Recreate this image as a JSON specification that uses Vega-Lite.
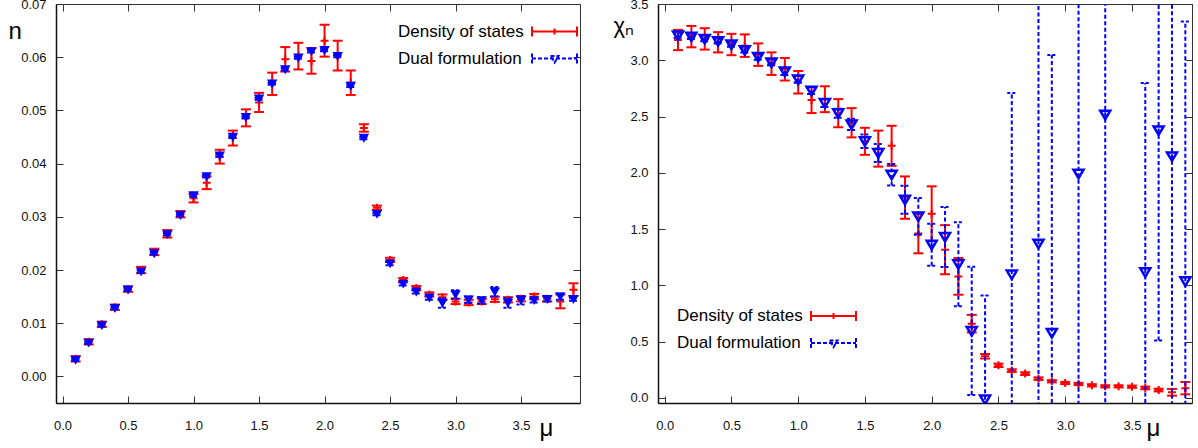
{
  "$schema": "https://vega.github.io/schema/vega-lite/v6.json",
  "background": "white",
  "padding": {"left": 7, "top": -3, "right": 5, "bottom": 5},
  "bounds": "flush",
  "spacing": 78,
  "config": {
    "font": "Liberation Sans",
    "view": {"stroke": "#333", "strokeWidth": 1},
    "axis": {"grid": false, "labelFont": "Liberation Sans", "labelFontSize": 13, "labelColor": "#111", "tickColor": "#333", "tickWidth": 1, "domainColor": "#111", "domainWidth": 1.5, "titleFont": "Liberation Sans", "titleFontWeight": "normal", "titleColor": "#000"}
  },
  "datasets": {
    "L": [
      {"mu":0.1,"d":0.0033,"dlo":0.0028,"dhi":0.0038,"b":0.0031,"blo":0.0029,"bhi":0.0033},
      {"mu":0.2,"d":0.0065,"dlo":0.0060,"dhi":0.0070,"b":0.0063,"blo":0.0061,"bhi":0.0065},
      {"mu":0.3,"d":0.0098,"dlo":0.0093,"dhi":0.0103,"b":0.0096,"blo":0.0094,"bhi":0.0098},
      {"mu":0.4,"d":0.0130,"dlo":0.0125,"dhi":0.0135,"b":0.0128,"blo":0.0126,"bhi":0.0130},
      {"mu":0.5,"d":0.0164,"dlo":0.0159,"dhi":0.0169,"b":0.0163,"blo":0.0161,"bhi":0.0165},
      {"mu":0.6,"d":0.0200,"dlo":0.0194,"dhi":0.0206,"b":0.0197,"blo":0.0195,"bhi":0.0199},
      {"mu":0.7,"d":0.0234,"dlo":0.0228,"dhi":0.0240,"b":0.0231,"blo":0.0229,"bhi":0.0233},
      {"mu":0.8,"d":0.0268,"dlo":0.0261,"dhi":0.0275,"b":0.0267,"blo":0.0265,"bhi":0.0269},
      {"mu":0.9,"d":0.0305,"dlo":0.0299,"dhi":0.0311,"b":0.0303,"blo":0.0301,"bhi":0.0305},
      {"mu":1.0,"d":0.0335,"dlo":0.0327,"dhi":0.0343,"b":0.0340,"blo":0.0338,"bhi":0.0342},
      {"mu":1.1,"d":0.0364,"dlo":0.0352,"dhi":0.0376,"b":0.0376,"blo":0.0374,"bhi":0.0378},
      {"mu":1.2,"d":0.0413,"dlo":0.0400,"dhi":0.0426,"b":0.0415,"blo":0.0413,"bhi":0.0417},
      {"mu":1.3,"d":0.0448,"dlo":0.0434,"dhi":0.0462,"b":0.0450,"blo":0.0448,"bhi":0.0452},
      {"mu":1.4,"d":0.0486,"dlo":0.0470,"dhi":0.0502,"b":0.0487,"blo":0.0485,"bhi":0.0489},
      {"mu":1.5,"d":0.0515,"dlo":0.0497,"dhi":0.0533,"b":0.0522,"blo":0.0520,"bhi":0.0524},
      {"mu":1.6,"d":0.0550,"dlo":0.0529,"dhi":0.0571,"b":0.0550,"blo":0.0548,"bhi":0.0552},
      {"mu":1.7,"d":0.0596,"dlo":0.0573,"dhi":0.0619,"b":0.0577,"blo":0.0575,"bhi":0.0579},
      {"mu":1.8,"d":0.0602,"dlo":0.0577,"dhi":0.0627,"b":0.0599,"blo":0.0597,"bhi":0.0601},
      {"mu":1.9,"d":0.0593,"dlo":0.0569,"dhi":0.0617,"b":0.0611,"blo":0.0609,"bhi":0.0613},
      {"mu":2.0,"d":0.0631,"dlo":0.0601,"dhi":0.0661,"b":0.0613,"blo":0.0611,"bhi":0.0615},
      {"mu":2.1,"d":0.0603,"dlo":0.0575,"dhi":0.0631,"b":0.0602,"blo":0.0600,"bhi":0.0604},
      {"mu":2.2,"d":0.0552,"dlo":0.0529,"dhi":0.0575,"b":0.0546,"blo":0.0544,"bhi":0.0548},
      {"mu":2.3,"d":0.0467,"dlo":0.0460,"dhi":0.0474,"b":0.0448,"blo":0.0446,"bhi":0.0450},
      {"mu":2.4,"d":0.0317,"dlo":0.0313,"dhi":0.0321,"b":0.0305,"blo":0.0303,"bhi":0.0307},
      {"mu":2.5,"d":0.0219,"dlo":0.0215,"dhi":0.0223,"b":0.0212,"blo":0.0209,"bhi":0.0215},
      {"mu":2.6,"d":0.0181,"dlo":0.0177,"dhi":0.0185,"b":0.0174,"blo":0.0171,"bhi":0.0177},
      {"mu":2.7,"d":0.0166,"dlo":0.0162,"dhi":0.0170,"b":0.0159,"blo":0.0156,"bhi":0.0162},
      {"mu":2.8,"d":0.0154,"dlo":0.0150,"dhi":0.0158,"b":0.0148,"blo":0.0144,"bhi":0.0152},
      {"mu":2.9,"d":0.0149,"dlo":0.0144,"dhi":0.0154,"b":0.0138,"blo":0.0129,"bhi":0.0147},
      {"mu":3.0,"d":0.0141,"dlo":0.0136,"dhi":0.0146,"b":0.0154,"blo":0.0146,"bhi":0.0162},
      {"mu":3.1,"d":0.0139,"dlo":0.0134,"dhi":0.0144,"b":0.0144,"blo":0.0138,"bhi":0.0150},
      {"mu":3.2,"d":0.0141,"dlo":0.0136,"dhi":0.0146,"b":0.0143,"blo":0.0137,"bhi":0.0149},
      {"mu":3.3,"d":0.0145,"dlo":0.0140,"dhi":0.0150,"b":0.0159,"blo":0.0150,"bhi":0.0168},
      {"mu":3.4,"d":0.0144,"dlo":0.0139,"dhi":0.0149,"b":0.0138,"blo":0.0129,"bhi":0.0147},
      {"mu":3.5,"d":0.0146,"dlo":0.0141,"dhi":0.0151,"b":0.0143,"blo":0.0135,"bhi":0.0151},
      {"mu":3.6,"d":0.0150,"dlo":0.0145,"dhi":0.0155,"b":0.0143,"blo":0.0139,"bhi":0.0147},
      {"mu":3.7,"d":0.0146,"dlo":0.0141,"dhi":0.0151,"b":0.0145,"blo":0.0141,"bhi":0.0149},
      {"mu":3.8,"d":0.0141,"dlo":0.0128,"dhi":0.0154,"b":0.0150,"blo":0.0144,"bhi":0.0156},
      {"mu":3.9,"d":0.0163,"dlo":0.0151,"dhi":0.0175,"b":0.0145,"blo":0.0142,"bhi":0.0148}
    ],
    "R": [
      {"mu":0.1,"d":3.18,"dlo":3.09,"dhi":3.27,"b":3.22,"blo":3.20,"bhi":3.24},
      {"mu":0.2,"d":3.21,"dlo":3.115,"dhi":3.305,"b":3.21,"blo":3.19,"bhi":3.23},
      {"mu":0.3,"d":3.19,"dlo":3.095,"dhi":3.285,"b":3.19,"blo":3.17,"bhi":3.21},
      {"mu":0.4,"d":3.16,"dlo":3.07,"dhi":3.25,"b":3.17,"blo":3.15,"bhi":3.19},
      {"mu":0.5,"d":3.14,"dlo":3.045,"dhi":3.235,"b":3.14,"blo":3.12,"bhi":3.16},
      {"mu":0.6,"d":3.13,"dlo":3.03,"dhi":3.23,"b":3.09,"blo":3.07,"bhi":3.11},
      {"mu":0.7,"d":3.05,"dlo":2.95,"dhi":3.15,"b":3.03,"blo":3.005,"bhi":3.055},
      {"mu":0.8,"d":2.97,"dlo":2.87,"dhi":3.07,"b":2.98,"blo":2.955,"bhi":3.005},
      {"mu":0.9,"d":2.92,"dlo":2.82,"dhi":3.02,"b":2.90,"blo":2.87,"bhi":2.93},
      {"mu":1.0,"d":2.805,"dlo":2.705,"dhi":2.905,"b":2.83,"blo":2.80,"bhi":2.86},
      {"mu":1.1,"d":2.646,"dlo":2.531,"dhi":2.761,"b":2.73,"blo":2.70,"bhi":2.76},
      {"mu":1.2,"d":2.654,"dlo":2.539,"dhi":2.769,"b":2.62,"blo":2.585,"bhi":2.655},
      {"mu":1.3,"d":2.53,"dlo":2.405,"dhi":2.655,"b":2.53,"blo":2.49,"bhi":2.57},
      {"mu":1.4,"d":2.445,"dlo":2.315,"dhi":2.575,"b":2.43,"blo":2.38,"bhi":2.48},
      {"mu":1.5,"d":2.28,"dlo":2.16,"dhi":2.40,"b":2.28,"blo":2.22,"bhi":2.34},
      {"mu":1.6,"d":2.215,"dlo":2.055,"dhi":2.375,"b":2.176,"blo":2.096,"bhi":2.256},
      {"mu":1.7,"d":2.24,"dlo":2.062,"dhi":2.418,"b":1.983,"blo":1.888,"bhi":2.078},
      {"mu":1.8,"d":1.78,"dlo":1.592,"dhi":1.968,"b":1.761,"blo":1.636,"bhi":1.886},
      {"mu":1.9,"d":1.46,"dlo":1.285,"dhi":1.635,"b":1.613,"blo":1.45,"bhi":1.776},
      {"mu":2.0,"d":1.637,"dlo":1.394,"dhi":1.88,"b":1.361,"blo":1.174,"bhi":1.548},
      {"mu":2.1,"d":1.317,"dlo":1.099,"dhi":1.535,"b":1.43,"blo":1.164,"bhi":1.696},
      {"mu":2.2,"d":1.08,"dlo":0.917,"dhi":1.243,"b":1.187,"blo":0.814,"bhi":1.56},
      {"mu":2.3,"d":0.66,"dlo":0.582,"dhi":0.738,"b":0.595,"blo":0.025,"bhi":1.165},
      {"mu":2.4,"d":0.37,"dlo":0.35,"dhi":0.39,"b":-0.015,"blo":-0.941,"bhi":0.911},
      {"mu":2.5,"d":0.29,"dlo":0.275,"dhi":0.305,"b":null,"blo":null,"bhi":null},
      {"mu":2.6,"d":0.243,"dlo":0.231,"dhi":0.255,"b":1.096,"blo":-0.517,"bhi":2.709},
      {"mu":2.7,"d":0.216,"dlo":0.204,"dhi":0.228,"b":null,"blo":null,"bhi":null},
      {"mu":2.8,"d":0.171,"dlo":0.159,"dhi":0.183,"b":1.37,"blo":-1.23,"bhi":3.97},
      {"mu":2.9,"d":0.148,"dlo":0.138,"dhi":0.158,"b":0.577,"blo":-1.893,"bhi":3.047},
      {"mu":3.0,"d":0.133,"dlo":0.123,"dhi":0.143,"b":null,"blo":null,"bhi":null},
      {"mu":3.1,"d":0.124,"dlo":0.114,"dhi":0.134,"b":1.992,"blo":-0.408,"bhi":4.392},
      {"mu":3.2,"d":0.112,"dlo":0.102,"dhi":0.122,"b":null,"blo":null,"bhi":null},
      {"mu":3.3,"d":0.103,"dlo":0.093,"dhi":0.113,"b":2.516,"blo":-0.384,"bhi":5.416},
      {"mu":3.4,"d":0.103,"dlo":0.093,"dhi":0.113,"b":null,"blo":null,"bhi":null},
      {"mu":3.5,"d":0.100,"dlo":0.090,"dhi":0.110,"b":null,"blo":null,"bhi":null},
      {"mu":3.6,"d":0.089,"dlo":0.077,"dhi":0.101,"b":1.116,"blo":-0.565,"bhi":2.797},
      {"mu":3.7,"d":0.07,"dlo":0.058,"dhi":0.082,"b":2.377,"blo":0.51,"bhi":4.244},
      {"mu":3.8,"d":0.05,"dlo":0.02,"dhi":0.08,"b":2.146,"blo":-0.354,"bhi":4.646},
      {"mu":3.9,"d":0.087,"dlo":0.032,"dhi":0.142,"b":1.036,"blo":-1.273,"bhi":3.345}
    ],
    "leg": [{"series": "Density of states"}, {"series": "Dual formulation"}]
  },
  "hconcat": [
    {
      "width": 524, "height": 399,
      "resolve": {"axis": {"x": "independent", "y": "independent"}},
      "data": {"name": "L"},
      "layer": [
        {"mark": {"type": "rule", "color": "#ff0000", "strokeWidth": 2},
         "encoding": {
           "x": {"field": "mu", "type": "quantitative", "scale": {"domain": [-0.05, 3.95], "nice": false, "zero": false},
                 "axis": {"orient": "bottom", "values": [0, 0.5, 1, 1.5, 2, 2.5, 3, 3.5], "format": ".1f", "tickSize": -7, "labelPadding": 23, "title": "μ", "titleX": 483, "titleY": 32, "titleAlign": "left", "titleBaseline": "alphabetic", "titleAngle": 0, "titleFontSize": 24}},
           "y": {"field": "dlo", "type": "quantitative", "scale": {"domain": [-0.005, 0.07], "nice": false, "zero": false},
                 "axis": {"orient": "left", "values": [0, 0.01, 0.02, 0.03, 0.04, 0.05, 0.06, 0.07], "format": ".2f", "tickSize": -7, "labelPadding": 17, "title": "n", "titleX": -48, "titleY": 34, "titleAlign": "left", "titleBaseline": "alphabetic", "titleAngle": 0, "titleFontSize": 24}},
           "y2": {"field": "dhi"}
         }},
        {"mark": {"type": "point", "shape": "M-1,0L1,0", "size": 100, "filled": false, "color": "#ff0000", "strokeWidth": 2, "opacity": 1},
         "encoding": {
           "x": {"field": "mu", "type": "quantitative", "scale": {"domain": [-0.05, 3.95], "nice": false, "zero": false},
                 "axis": {"orient": "top", "values": [0, 0.5, 1, 1.5, 2, 2.5, 3, 3.5], "labels": false, "domain": false, "tickSize": -7, "title": null}},
           "y": {"field": "dlo", "type": "quantitative", "scale": {"domain": [-0.005, 0.07], "nice": false, "zero": false},
                 "axis": {"orient": "right", "values": [0, 0.01, 0.02, 0.03, 0.04, 0.05, 0.06, 0.07], "labels": false, "domain": false, "tickSize": -7, "title": null}}
         }},
        {"mark": {"type": "point", "shape": "M-1,0L1,0", "size": 100, "filled": false, "color": "#ff0000", "strokeWidth": 2, "opacity": 1},
         "encoding": {
           "x": {"field": "mu", "type": "quantitative", "axis": null},
           "y": {"field": "dhi", "type": "quantitative", "axis": null}
         }},
        {"mark": {"type": "point", "shape": "M-1,0L1,0M0,-1L0,1", "size": 64, "filled": false, "color": "#ff0000", "strokeWidth": 2, "opacity": 1},
         "encoding": {
           "x": {"field": "mu", "type": "quantitative", "axis": null},
           "y": {"field": "d", "type": "quantitative", "axis": null}
         }},
        {"mark": {"type": "rule", "color": "#0000ff", "strokeWidth": 2, "strokeDash": [4, 2.5]},
         "encoding": {
           "x": {"field": "mu", "type": "quantitative", "axis": null},
           "y": {"field": "blo", "type": "quantitative", "axis": null},
           "y2": {"field": "bhi"}
         }},
        {"mark": {"type": "point", "shape": "M-1,0L1,0", "size": 81, "filled": false, "color": "#0000ff", "strokeWidth": 2, "strokeDash": [3, 2], "opacity": 1},
         "encoding": {
           "x": {"field": "mu", "type": "quantitative", "axis": null},
           "y": {"field": "blo", "type": "quantitative", "axis": null}
         }},
        {"mark": {"type": "point", "shape": "M-1,0L1,0", "size": 81, "filled": false, "color": "#0000ff", "strokeWidth": 2, "strokeDash": [3, 2], "opacity": 1},
         "encoding": {
           "x": {"field": "mu", "type": "quantitative", "axis": null},
           "y": {"field": "bhi", "type": "quantitative", "axis": null}
         }},
        {"mark": {"type": "point", "shape": "M-1,-0.8L1,-0.8L0,0.9Z", "size": 110, "filled": true, "color": "#0000ff", "opacity": 1, "strokeWidth": 1},
         "encoding": {
           "x": {"field": "mu", "type": "quantitative", "axis": null},
           "y": {"field": "b", "type": "quantitative", "axis": null}
         }},
        {"data": {"name": "leg"},
         "mark": {"type": "point", "filled": false, "opacity": 0, "size": 100},
         "encoding": {
           "color": {"field": "series", "type": "nominal",
             "scale": {"domain": ["Density of states", "Dual formulation"], "range": ["#ff0000", "#0000ff"]},
             "legend": {"orient": "none", "legendX": 321, "legendY": 19, "title": null, "padding": 0, "labelFont": "Liberation Sans", "labelFontSize": 17, "labelColor": "#000", "labelLimit": 400, "symbolSize": 100, "symbolStrokeWidth": 2, "symbolOpacity": 1, "rowPadding": 8}},
           "shape": {"field": "series", "type": "nominal",
             "scale": {"domain": ["Density of states", "Dual formulation"], "range": ["M29.3,-1L29.3,1M29.3,0L38.3,0M38.3,-1L38.3,1M33.8,-0.6L33.8,0.6", "M29.3,-1L29.3,1M29.3,0L38.3,0M38.3,-1L38.3,1M33,-0.5L34.6,-0.5L33.8,0.8Z"]},
             "legend": {"orient": "none", "legendX": 321, "legendY": 19, "title": null, "padding": 0, "labelFont": "Liberation Sans", "labelFontSize": 17, "labelColor": "#000", "labelLimit": 400, "symbolSize": 100, "symbolStrokeWidth": 2, "symbolOpacity": 1, "rowPadding": 8}},
           "strokeDash": {"field": "series", "type": "nominal",
             "scale": {"domain": ["Density of states", "Dual formulation"], "range": [[1, 0], [4, 2]]},
             "legend": {"orient": "none", "legendX": 321, "legendY": 19, "title": null, "padding": 0, "labelFont": "Liberation Sans", "labelFontSize": 17, "labelColor": "#000", "labelLimit": 400, "symbolSize": 100, "symbolStrokeWidth": 2, "symbolOpacity": 1, "rowPadding": 8}}
         }}
      ]
    },
    {
      "width": 534, "height": 399,
      "resolve": {"axis": {"x": "independent", "y": "independent"}},
      "data": {"name": "R"},
      "layer": [
        {"mark": {"type": "rule", "color": "#ff0000", "strokeWidth": 2},
         "encoding": {
           "x": {"field": "mu", "type": "quantitative", "scale": {"domain": [-0.05, 3.95], "nice": false, "zero": false},
                 "axis": {"orient": "bottom", "values": [0, 0.5, 1, 1.5, 2, 2.5, 3, 3.5], "format": ".1f", "tickSize": -7, "labelPadding": 23, "title": "μ", "titleX": 488, "titleY": 32, "titleAlign": "left", "titleBaseline": "alphabetic", "titleAngle": 0, "titleFontSize": 24}},
           "y": {"field": "dlo", "type": "quantitative", "scale": {"domain": [-0.045, 3.5], "nice": false, "zero": false},
                 "axis": {"orient": "left", "values": [0, 0.5, 1, 1.5, 2, 2.5, 3, 3.5], "format": ".1f", "tickSize": -7, "labelPadding": 17, "title": "χₙ", "titleX": -45, "titleY": 28, "titleAlign": "left", "titleBaseline": "alphabetic", "titleAngle": 0, "titleFontSize": 22}},
           "y2": {"field": "dhi"}
         }},
        {"mark": {"type": "point", "shape": "M-1,0L1,0", "size": 100, "filled": false, "color": "#ff0000", "strokeWidth": 2, "opacity": 1},
         "encoding": {
           "x": {"field": "mu", "type": "quantitative", "scale": {"domain": [-0.05, 3.95], "nice": false, "zero": false},
                 "axis": {"orient": "top", "values": [0, 0.5, 1, 1.5, 2, 2.5, 3, 3.5], "labels": false, "domain": false, "tickSize": -7, "title": null}},
           "y": {"field": "dlo", "type": "quantitative", "scale": {"domain": [-0.045, 3.5], "nice": false, "zero": false},
                 "axis": {"orient": "right", "values": [0, 0.5, 1, 1.5, 2, 2.5, 3, 3.5], "labels": false, "domain": false, "tickSize": -7, "title": null}}
         }},
        {"mark": {"type": "point", "shape": "M-1,0L1,0", "size": 100, "filled": false, "color": "#ff0000", "strokeWidth": 2, "opacity": 1},
         "encoding": {
           "x": {"field": "mu", "type": "quantitative", "axis": null},
           "y": {"field": "dhi", "type": "quantitative", "axis": null}
         }},
        {"mark": {"type": "point", "shape": "M-1,0L1,0M0,-1L0,1", "size": 64, "filled": false, "color": "#ff0000", "strokeWidth": 2, "opacity": 1},
         "encoding": {
           "x": {"field": "mu", "type": "quantitative", "axis": null},
           "y": {"field": "d", "type": "quantitative", "axis": null}
         }},
        {"mark": {"type": "rule", "color": "#0000ff", "strokeWidth": 2, "strokeDash": [4, 2.5], "clip": true},
         "encoding": {
           "x": {"field": "mu", "type": "quantitative", "axis": null},
           "y": {"field": "blo", "type": "quantitative", "axis": null},
           "y2": {"field": "bhi"}
         }},
        {"mark": {"type": "point", "shape": "M-1,0L1,0", "size": 81, "filled": false, "color": "#0000ff", "strokeWidth": 2, "strokeDash": [3, 2], "opacity": 1, "clip": true},
         "encoding": {
           "x": {"field": "mu", "type": "quantitative", "axis": null},
           "y": {"field": "blo", "type": "quantitative", "axis": null}
         }},
        {"mark": {"type": "point", "shape": "M-1,0L1,0", "size": 81, "filled": false, "color": "#0000ff", "strokeWidth": 2, "strokeDash": [3, 2], "opacity": 1, "clip": true},
         "encoding": {
           "x": {"field": "mu", "type": "quantitative", "axis": null},
           "y": {"field": "bhi", "type": "quantitative", "axis": null}
         }},
        {"mark": {"type": "point", "shape": "M-1,-0.8L1,-0.8L0,0.9Z", "size": 100, "filled": false, "color": "#0000ff", "opacity": 1, "strokeWidth": 2.5, "clip": true},
         "encoding": {
           "x": {"field": "mu", "type": "quantitative", "axis": null},
           "y": {"field": "b", "type": "quantitative", "axis": null}
         }},
        {"data": {"name": "leg"},
         "mark": {"type": "point", "filled": false, "opacity": 0, "size": 100},
         "encoding": {
           "color": {"field": "series", "type": "nominal",
             "scale": {"domain": ["Density of states", "Dual formulation"], "range": ["#ff0000", "#0000ff"]},
             "legend": {"orient": "none", "legendX": -2, "legendY": 303.5, "title": null, "padding": 0, "labelFont": "Liberation Sans", "labelFontSize": 17, "labelColor": "#000", "labelLimit": 400, "symbolSize": 100, "symbolStrokeWidth": 2, "symbolOpacity": 1, "rowPadding": 8}},
           "shape": {"field": "series", "type": "nominal",
             "scale": {"domain": ["Density of states", "Dual formulation"], "range": ["M29.3,-1L29.3,1M29.3,0L38.3,0M38.3,-1L38.3,1M33.8,-0.6L33.8,0.6", "M29.3,-1L29.3,1M29.3,0L38.3,0M38.3,-1L38.3,1M33,-0.5L34.6,-0.5L33.8,0.8Z"]},
             "legend": {"orient": "none", "legendX": -2, "legendY": 303.5, "title": null, "padding": 0, "labelFont": "Liberation Sans", "labelFontSize": 17, "labelColor": "#000", "labelLimit": 400, "symbolSize": 100, "symbolStrokeWidth": 2, "symbolOpacity": 1, "rowPadding": 8}},
           "strokeDash": {"field": "series", "type": "nominal",
             "scale": {"domain": ["Density of states", "Dual formulation"], "range": [[1, 0], [4, 2]]},
             "legend": {"orient": "none", "legendX": -2, "legendY": 303.5, "title": null, "padding": 0, "labelFont": "Liberation Sans", "labelFontSize": 17, "labelColor": "#000", "labelLimit": 400, "symbolSize": 100, "symbolStrokeWidth": 2, "symbolOpacity": 1, "rowPadding": 8}}
         }}
      ]
    }
  ],
  "resolve": {"scale": {"color": "independent", "shape": "independent", "strokeDash": "independent"}, "legend": {"color": "independent", "shape": "independent", "strokeDash": "independent"}}
}
